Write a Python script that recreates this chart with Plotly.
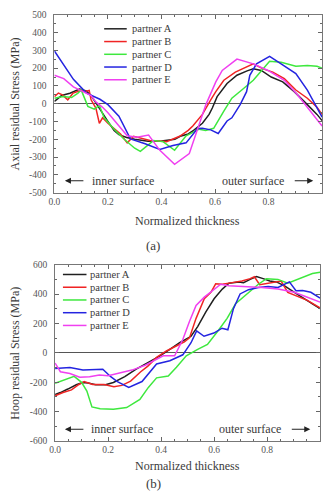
import plotly.graph_objects as go

W, H = 326, 499

partners = ["partner A", "partner B", "partner C", "partner D", "partner E"]
colors = ["#202020", "#f02424", "#3ee83e", "#2424e0", "#f040f0"]

# ---------------- (a) Axial residual stress ----------------
ax_A_x = [0, 0.027, 0.058, 0.094, 0.119, 0.137, 0.155, 0.174, 0.198, 0.223, 0.241, 0.27, 0.30, 0.35, 0.40, 0.45,
          0.47, 0.50, 0.52, 0.553, 0.578, 0.59, 0.608, 0.645, 0.682, 0.72, 0.743, 0.773, 0.81, 0.853, 0.896, 0.945, 0.981, 1.0]
ax_A_y = [13, 46, 59, 83, 72, 46, 5, -42, -95, -150, -174, -190, -200, -211, -210, -200,
          -183, -170, -150, -110, -60, -24, 40, 114, 160, 185, 196, 187, 150, 123, 68, -5, -60, -95]

ax_B_x = [0, 0.015, 0.03, 0.05, 0.07, 0.1, 0.119, 0.13, 0.137, 0.155, 0.168, 0.18, 0.2, 0.247, 0.272, 0.296, 0.357,
          0.419, 0.468, 0.50, 0.517, 0.553, 0.584, 0.603, 0.633, 0.676, 0.743, 0.78, 0.816, 0.859, 0.902, 0.945, 0.981, 1.0]
ax_B_y = [40, 60, 50, 22, 60, 75, 70, 75, 22, -24, -110, -79, -110, -170, -220, -183, -207,
          -213, -183, -150, -125, -60, 22, 68, 132, 178, 224, 196, 178, 141, 77, 31, -20, -60]

ax_C_x = [0, 0.033, 0.064, 0.088, 0.1, 0.125, 0.149, 0.168, 0.186, 0.223, 0.26, 0.30, 0.321, 0.37, 0.406, 0.449,
          0.492, 0.541, 0.565, 0.595, 0.633, 0.663, 0.70, 0.743, 0.804, 0.847, 0.902, 0.945, 0.981, 1.0]
ax_C_y = [31, 41, 35, 59, 78, -15, -30, -10, -79, -143, -198, -250, -268, -207, -213, -262,
          -180, -143, -150, -138, -42, 31, 77, 132, 239, 233, 211, 215, 211, 200]

ax_D_x = [0, 0.035, 0.071, 0.12, 0.17, 0.2, 0.241, 0.284, 0.339, 0.394, 0.443, 0.492, 0.535, 0.553, 0.584, 0.612,
          0.645, 0.663, 0.694, 0.718, 0.73, 0.755, 0.804, 0.847, 0.902, 0.945, 0.981, 1.0]
ax_D_y = [297, 215, 137, 60, 25, -5, -70, -198, -225, -257, -235, -220, -139, -138, -147, -167,
          -97, -79, -5, 68, 160, 224, 266, 224, 169, 77, -24, -75]

ax_E_x = [0, 0.035, 0.071, 0.107, 0.137, 0.155, 0.18, 0.2, 0.235, 0.272, 0.309, 0.352, 0.394, 0.449, 0.504, 0.529,
          0.566, 0.603, 0.627, 0.682, 0.743, 0.798, 0.859, 0.908, 0.957, 1.0]
ax_E_y = [160, 141, 95, 68, 46, 10, -20, -51, -115, -180, -189, -176, -262, -341, -280, -170,
          -5, 123, 187, 251, 224, 187, 132, 50, -42, -125]

# ---------------- (b) Hoop residual stress ----------------
hp_A_x = [0, 0.02, 0.048, 0.08, 0.104, 0.125, 0.153, 0.19, 0.22, 0.263, 0.306, 0.343, 0.396, 0.433, 0.47, 0.513,
          0.538, 0.569, 0.6, 0.631, 0.656, 0.693, 0.711, 0.736, 0.76, 0.785, 0.81, 0.835, 0.866, 0.903, 0.94, 0.971, 1.0]
hp_A_y = [-283, -270, -246, -217, -201, -205, -217, -217, -201, -162, -110, -73, -20, 24, 69, 113,
          179, 279, 368, 434, 474, 483, 478, 500, 520, 505, 489, 483, 456, 412, 372, 334, 301]

hp_B_x = [0, 0.03, 0.062, 0.09, 0.11, 0.142, 0.185, 0.222, 0.252, 0.285, 0.322, 0.35, 0.383, 0.42, 0.457, 0.488,
          0.507, 0.532, 0.563, 0.588, 0.606, 0.631, 0.668, 0.705, 0.736, 0.752, 0.772, 0.81, 0.853, 0.878, 0.915, 0.952, 1.0]
hp_B_y = [-292, -270, -252, -215, -195, -215, -215, -230, -221, -192, -130, -90, -31, 13, 47, 75,
          102, 235, 368, 412, 470, 467, 478, 489, 505, 518, 464, 478, 489, 412, 385, 357, 306]

hp_C_x = [0, 0.035, 0.072, 0.1, 0.12, 0.139, 0.17, 0.22, 0.27, 0.32, 0.352, 0.383, 0.427, 0.458, 0.495, 0.538,
          0.575, 0.618, 0.649, 0.681, 0.73, 0.767, 0.798, 0.841, 0.878, 0.928, 0.971, 1.0]
hp_C_y = [-206, -184, -160, -200, -260, -368, -380, -383, -372, -317, -235, -170, -158, -97, -20, 24,
          58, 157, 235, 334, 412, 467, 505, 500, 474, 512, 540, 549]

hp_D_x = [0, 0.056, 0.105, 0.18, 0.21, 0.235, 0.278, 0.328, 0.383, 0.433, 0.482, 0.513, 0.534, 0.562, 0.599, 0.63,
          0.652, 0.673, 0.698, 0.73, 0.767, 0.804, 0.841, 0.884, 0.909, 0.934, 0.965, 1.0]
hp_D_y = [-106, -100, -117, -111, -162, -195, -235, -195, -75, -53, -13, 69, 150, 113, 135, 168,
          157, 301, 401, 430, 445, 452, 445, 483, 423, 425, 412, 372]

hp_E_x = [0, 0.02, 0.056, 0.093, 0.13, 0.167, 0.2, 0.24, 0.29, 0.34, 0.39, 0.408, 0.451, 0.482, 0.507, 0.532,
          0.563, 0.594, 0.625, 0.656, 0.717, 0.78, 0.841, 0.903, 0.952, 1.0]
hp_E_y = [-69, -128, -140, -166, -162, -150, -155, -140, -117, -84, -35, -20, -20, 91, 213, 323,
          379, 423, 467, 456, 452, 445, 434, 412, 379, 345]

axial_x = [ax_A_x, ax_B_x, ax_C_x, ax_D_x, ax_E_x]
axial_y = [ax_A_y, ax_B_y, ax_C_y, ax_D_y, ax_E_y]
hoop_x = [hp_A_x, hp_B_x, hp_C_x, hp_D_x, hp_E_x]
hoop_y = [hp_A_y, hp_B_y, hp_C_y, hp_D_y, hp_E_y]

x_ticks = [0, 0.2, 0.4, 0.6, 0.8, 1.0]
x_ticktext = ["0.0", "0.2", "0.4", "0.6", "0.8", "1.0"]
ax_yticks = [-500, -400, -300, -200, -100, 0, 100, 200, 300, 400, 500]
ax_yticktext = ["-500", "-400", "-300", "-200", "-100", "0", "100", "200", "300", "400", "500"]
hp_yticks = [-600, -400, -200, 0, 200, 400, 600]
hp_yticktext = ["-600", "-400", "-200", "0", "200", "400", "600"]

FONT = "Liberation Serif, Times New Roman, serif"
TXT = "#3a3a3a"


def px(xp):
    return xp / W


def py(yp):
    return 1 - yp / H


fig = go.Figure()
for i in range(5):
    fig.add_trace(go.Scatter(x=axial_x[i], y=axial_y[i], mode="lines", name=partners[i],
                             line=dict(color=colors[i], width=1.5), xaxis="x", yaxis="y", showlegend=False))
for i in range(5):
    fig.add_trace(go.Scatter(x=hoop_x[i], y=hoop_y[i], mode="lines", name=partners[i],
                             line=dict(color=colors[i], width=1.5), xaxis="x2", yaxis="y2", showlegend=False))

common_x = dict(range=[0, 1], tickvals=x_ticks, ticktext=x_ticktext, ticks="inside", ticklen=4,
                tickcolor="#666", showline=True, linecolor="#777", linewidth=1, mirror="allticks",
                showgrid=False, zeroline=False, tickfont=dict(family=FONT, size=9.5, color="#555"),
                minor=dict(dtick=0.05, tick0=0, ticks="inside", ticklen=2, tickcolor="#666", showgrid=False))
common_y = dict(ticks="inside", ticklen=4, tickcolor="#666", showline=True, linecolor="#777", linewidth=1,
                mirror="allticks", showgrid=False, zeroline=True, zerolinecolor="#555", zerolinewidth=1,
                tickfont=dict(family=FONT, size=9.5, color="#555"), ticklabelstandoff=5)

fig.update_layout(
    width=W, height=H, margin=dict(l=0, r=0, t=0, b=0),
    paper_bgcolor="white", plot_bgcolor="white", showlegend=False,
    xaxis=dict(domain=[px(49.3), px(322)], anchor="y", **common_x),
    yaxis=dict(domain=[py(191.5), py(10)], anchor="x", range=[-500, 500], tickvals=ax_yticks,
               ticktext=ax_yticktext, minor=dict(dtick=50, tick0=0, ticks="inside", ticklen=2,
                                                 tickcolor="#666", showgrid=False), **common_y),
    xaxis2=dict(domain=[px(50), px(320)], anchor="y2", **common_x),
    yaxis2=dict(domain=[py(445), py(265)], anchor="x2", range=[-600, 600], tickvals=hp_yticks,
                ticktext=hp_yticktext, minor=dict(dtick=100, tick0=0, ticks="inside", ticklen=2,
                                                  tickcolor="#666", showgrid=False), **common_y),
)

ann = []
shapes = []


def text(x, y, s, size, anchor="center", angle=0, yanchor="middle"):
    ann.append(dict(x=px(x), y=py(y), xref="paper", yref="paper", text=s, showarrow=False,
                    xanchor=anchor, yanchor=yanchor, textangle=angle,
                    font=dict(family=FONT, size=size, color=TXT)))


def arrow(x_head, x_tail, y):
    ann.append(dict(x=px(x_head), y=py(y), ax=x_tail - x_head, ay=0, xref="paper", yref="paper",
                    axref="pixel", ayref="pixel", text="", showarrow=True, arrowhead=2,
                    arrowsize=1.1, arrowwidth=1.1, arrowcolor="#222"))


# axis titles
text(9, 100.7, "Axial residual Stress (MPa)", 12, angle=-90)
text(185, 220, "Normalized thickness", 12)
text(150, 245, "(a)", 13)
text(9, 355, "Hoop residual Stress (MPa)", 12, angle=-90)
text(185, 470, "Normalized thickness", 12)
text(150, 498, "(b)", 13, yanchor="bottom")

# surface labels
text(86, 179.3, "inner surface", 12, anchor="left")
arrow(60, 80, 179.3)
text(285, 179.3, "outer surface", 12, anchor="right")
arrow(313, 293, 179.3)
text(85, 433, "inner surface", 12, anchor="left")
arrow(60, 80, 433)
text(282, 433, "outer surface", 12, anchor="right")
arrow(310, 290, 433)

# legend keys
for i in range(5):
    yy = 24.3 + 13 * i
    shapes.append(dict(type="line", xref="paper", yref="paper", x0=px(100), x1=px(123), y0=py(yy), y1=py(yy),
                       line=dict(color=colors[i], width=1.5)))
    text(126.5, yy, partners[i], 10.5, anchor="left")
    yb = 275 + 13 * i
    shapes.append(dict(type="line", xref="paper", yref="paper", x0=px(58), x1=px(82), y0=py(yb), y1=py(yb),
                       line=dict(color=colors[i], width=1.5)))
    text(84, yb, partners[i], 10.5, anchor="left")

fig.update_layout(annotations=ann, shapes=shapes)
fig.write_html("out.html")
